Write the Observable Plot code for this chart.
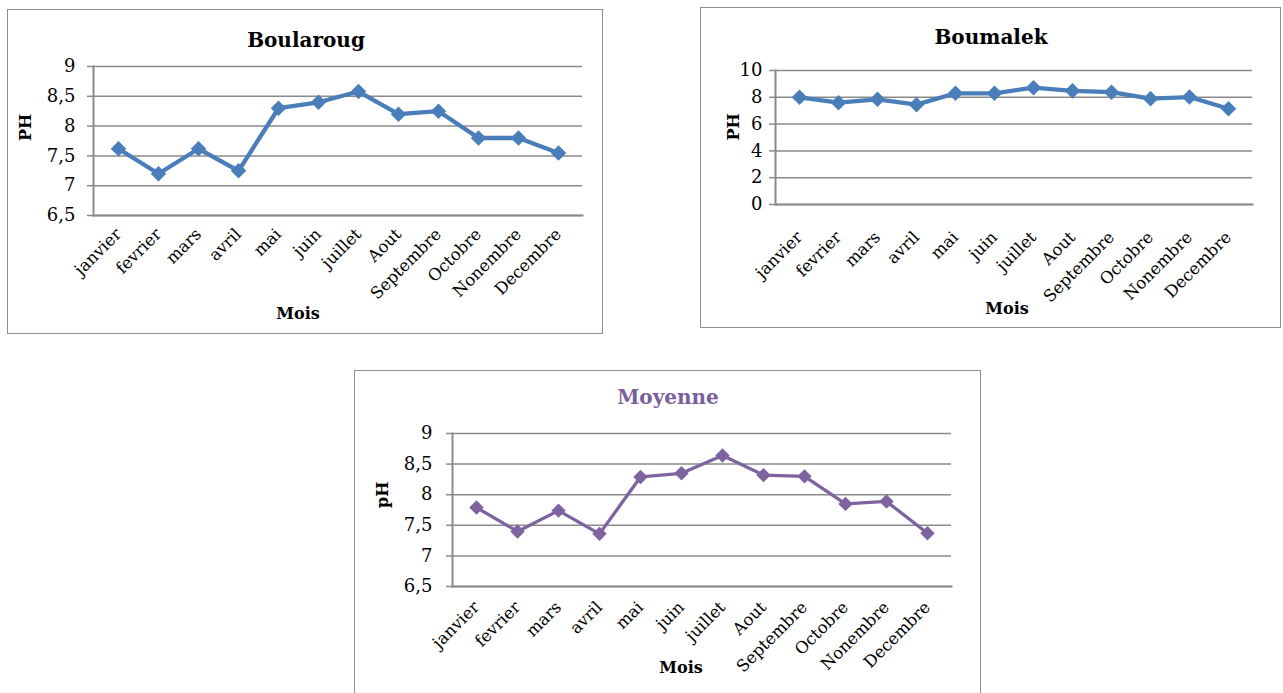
<!DOCTYPE html>
<html>
<head>
<meta charset="utf-8">
<script src="https://cdn.jsdelivr.net/npm/d3@7"></script>
<script src="https://cdn.jsdelivr.net/npm/@observablehq/plot@0.6"></script>
<style>
  html, body { margin: 0; padding: 0; background: #fff; overflow: hidden; }
  body { position: relative; width: 1283px; height: 693px; }
  .box { position: absolute; box-sizing: border-box; border: 1.5px solid #8e8e8e; background: #fff; }
  .chart { position: absolute; }
  .chart svg { overflow: visible; }
</style>
</head>
<body>
<div id="page"></div>
<script>
// Monthly pH readings at the two stations and their mean
const months = ["janvier", "fevrier", "mars", "avril", "mai", "juin", "juillet", "Aout", "Septembre", "Octobre", "Nonembre", "Decembre"];
const boularoug = [7.62, 7.2, 7.62, 7.25, 8.3, 8.4, 8.58, 8.2, 8.25, 7.8, 7.8, 7.55];
const boumalek = [8.0, 7.6, 7.85, 7.45, 8.3, 8.3, 8.72, 8.48, 8.38, 7.9, 8.02, 7.15];
const moyenne = [7.79, 7.4, 7.74, 7.36, 8.29, 8.35, 8.64, 8.32, 8.3, 7.85, 7.89, 7.37];
const ticksNarrow = [6.5, 7, 7.5, 8, 8.5, 9];
const ticksWide = [0, 2, 4, 6, 8, 10];

const gridColor = "#8a8a8a";
const font = "DejaVu Serif";
const commaFormat = d => String(d).replace(".", ",");

function chart(cfg) {
  const data = months.map((m, i) => ({month: m, ph: cfg.values[i]}));
  const box = document.createElement("div");
  box.className = "box";
  Object.assign(box.style, {left: cfg.left + "px", top: cfg.top + "px", width: cfg.width + "px", height: cfg.height + "px"});
  document.getElementById("page").appendChild(box);

  const svg = Plot.plot({
    width: cfg.width,
    height: cfg.height,
    marginLeft: cfg.margin[0],
    marginTop: cfg.margin[1],
    marginRight: cfg.margin[2],
    marginBottom: cfg.margin[3],
    style: {fontFamily: font, fontSize: "16px", color: "#000", background: "transparent", overflow: "visible"},
    x: {type: "point", domain: months, padding: 0.5},
    y: {domain: [cfg.ticks[0], cfg.ticks[cfg.ticks.length - 1]]},
    marks: [
      Plot.gridY(cfg.ticks, {stroke: gridColor, strokeOpacity: 1, strokeWidth: 1.5}),
      Plot.axisY(cfg.ticks, {tickSize: 6, tickPadding: cfg.yPad, tickFormat: commaFormat, stroke: gridColor, strokeWidth: 1.5, fontSize: 18, label: null}),
      Plot.frame({anchor: "left", stroke: gridColor, strokeWidth: 2}),
      Plot.frame({anchor: "bottom", stroke: gridColor, strokeWidth: 2}),
      Plot.axisX({tickRotate: -45, tickSize: 0, tickPadding: cfg.xPad, fontSize: 16.5, dx: 0, label: null}),
      Plot.line(data, {x: "month", y: "ph", stroke: cfg.color, strokeWidth: cfg.lineWidth}),
      Plot.dot(data, {x: "month", y: "ph", symbol: "diamond2", r: cfg.markerR, fill: cfg.color, stroke: "none"}),
      Plot.text([cfg.title], {frameAnchor: "top", dx: cfg.titlePos[0], dy: cfg.titlePos[1], fontWeight: "bold", fontSize: 20, fill: cfg.titleColor, lineAnchor: "middle"}),
      Plot.text([cfg.yLabel], {frameAnchor: "left", dx: cfg.yLabelPos[0], dy: cfg.yLabelPos[1], rotate: -90, fontWeight: "bold", fontSize: 16, lineAnchor: "middle"}),
      Plot.text(["Mois"], {frameAnchor: "bottom", dx: cfg.xLabelPos[0], dy: cfg.xLabelPos[1], fontWeight: "bold", fontSize: 16, lineAnchor: "middle"})
    ]
  });
  const holder = document.createElement("div");
  holder.className = "chart";
  Object.assign(holder.style, {left: cfg.left + "px", top: cfg.top + "px"});
  holder.appendChild(svg);
  document.getElementById("page").appendChild(holder);
}

chart({
  title: "Boularoug", titleColor: "#000", yLabel: "PH", values: boularoug, ticks: ticksNarrow,
  color: "#4a7ebb", lineWidth: 4.3, markerR: 7,
  left: 7, top: 9, width: 596, height: 325,
  margin: [86, 57, 21, 119], yPad: 12, xPad: 16,
  titlePos: [-32, -26], yLabelPos: [-68, 0], xLabelPos: [-40, 98]
});

chart({
  title: "Boumalek", titleColor: "#000", yLabel: "PH", values: boumalek, ticks: ticksWide,
  color: "#4a7ebb", lineWidth: 4.3, markerR: 7,
  left: 700, top: 7, width: 581, height: 321,
  margin: [75, 63, 29, 124], yPad: 7, xPad: 30,
  titlePos: [-23, -33], yLabelPos: [-42, 3], xLabelPos: [-7, 104]
});

chart({
  title: "Moyenne", titleColor: "#7a5f9a", yLabel: "pH", values: moyenne, ticks: ticksNarrow,
  color: "#7f63a1", lineWidth: 3.3, markerR: 6.5,
  left: 354, top: 370, width: 627, height: 330,
  margin: [98, 63, 30, 114], yPad: 14, xPad: 18,
  titlePos: [-34, -36], yLabelPos: [-70, -2], xLabelPos: [-21, 81]
});
</script>
</body>
</html>
